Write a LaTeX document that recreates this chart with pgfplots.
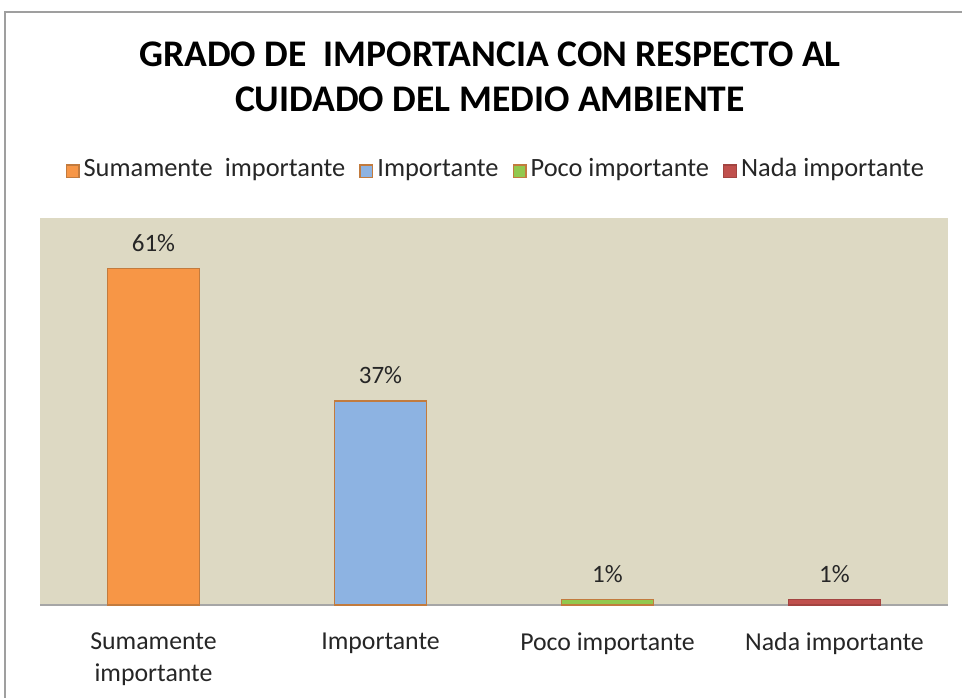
\documentclass[border=0pt]{standalone}
\usepackage{pgfplots}
\pgfplotsset{compat=1.18}
\usepackage{fontspec}
\setmainfont{Carlito}
\definecolor{bgbeige}{HTML}{DDD9C3}
\definecolor{corange}{HTML}{F79646}
\definecolor{cblue}{HTML}{8DB3E2}
\definecolor{cgreen}{HTML}{92C84E}
\definecolor{cred}{HTML}{C0504D}
\definecolor{cedge}{HTML}{C27B3E}
\definecolor{ctext}{HTML}{262626}
\begin{document}
\begin{tikzpicture}
\begin{axis}[
  name=ax,
  width=454pt, height=193.5pt, scale only axis,
  xmin=-0.5, xmax=3.5, ymin=0, ymax=70.2,
  clip=false,
  axis background/.style={fill=bgbeige},
  axis x line*=bottom, axis y line=none,
  x axis line style={draw=gray!70,line width=1pt,-},
  xtick={0,1,2,3}, major tick length=0pt,
  xticklabels={{Sumamente\\importante},{Importante},{Poco importante},{Nada importante}},
  xticklabel style={align=center,font=\fontsize{12.9}{16}\selectfont,text=ctext,yshift=-10.5pt},
  /pgf/number format/assume math mode=true,
  ybar, bar width=46pt, bar shift=0pt,
  nodes near coords={\pgfmathprintnumber{\pgfplotspointmeta}\%},
  nodes near coords style={font=\fontsize{12.5}{14}\selectfont,text=ctext,yshift=5pt},
  legend style={at={(0.503,1.12)},anchor=center,draw=none,fill=none,
    legend columns=4,font=\fontsize{13.2}{15}\selectfont,text=ctext,
    nodes={text depth=0.25em,text height=0.7em,inner xsep=2pt},
    /tikz/every even column/.append style={column sep=5pt}},
  legend image code/.code={\draw[#1] (0pt,-3.1pt) rectangle (6.4pt,3.3pt);},
]
\addplot[fill=corange,draw=cedge,line width=0.6pt] coordinates {(0,61)};
\addplot[fill=cblue,draw=cedge,line width=0.6pt] coordinates {(1,37)};
\addplot[fill=cgreen,draw=cedge,line width=0.6pt] coordinates {(2,1)};
\addplot[fill=cred,draw=cred!85!black,line width=0.6pt] coordinates {(3,1)};
\legend{Sumamente\ \ importante,Importante,Poco importante,Nada importante}
\coordinate (bbsw) at (rel axis cs:-0.04405,-0.24031);
\coordinate (bbne) at (rel axis cs:1.01542,1.56331);
\draw[gray!75,line width=1pt] (rel axis cs:-0.03855,-0.24031) -- (rel axis cs:-0.03855,1.5323) -- (rel axis cs:1.01542,1.5323);
\node[align=center,font=\fontsize{18.8}{22.5}\selectfont\bfseries,text=black] at (rel axis cs:0.4956,1.3643) {GRADO DE\ \ IMPORTANCIA CON RESPECTO AL\\CUIDADO DEL MEDIO AMBIENTE};
\end{axis}
\pgfresetboundingbox
\useasboundingbox (bbsw) rectangle (bbne);
\end{tikzpicture}
\end{document}
